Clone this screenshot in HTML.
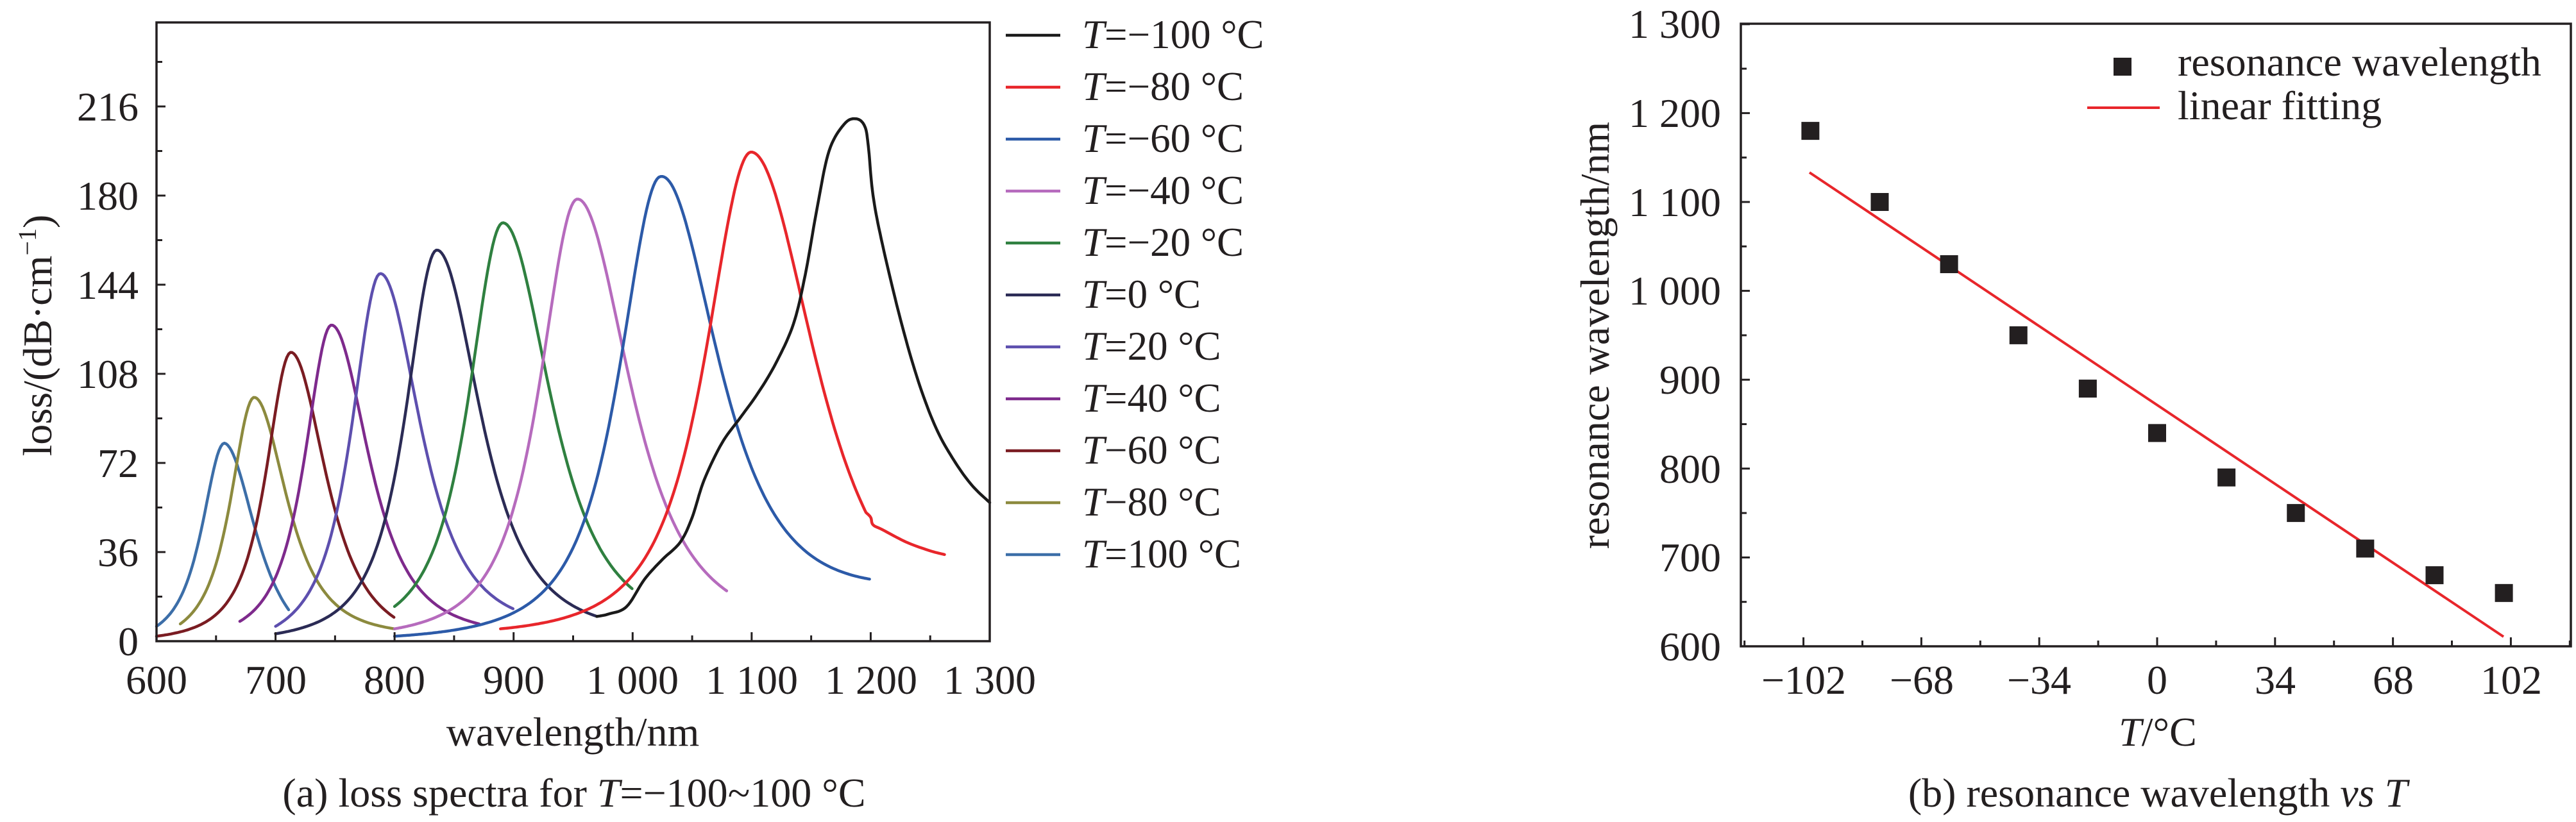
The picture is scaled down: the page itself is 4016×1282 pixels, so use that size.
<!DOCTYPE html>
<html><head><meta charset="utf-8"><style>
html,body{margin:0;padding:0;background:#fff;}
svg{display:block;}
text,tspan{font-family:"Liberation Serif",serif;fill:#231f20;}
</style></head><body>
<svg id="s" width="4016" height="1282" viewBox="0 0 4016 1282" xmlns="http://www.w3.org/2000/svg">
<g id="curves" fill="none" stroke-width="4.5" stroke-linejoin="round" stroke-linecap="round"></g>
<g id="axes" stroke="#231f20" fill="none"></g>
<g font-size="64" text-anchor="end">
<text x="216" y="1022">0</text>
<text x="216" y="883">36</text>
<text x="216" y="744">72</text>
<text x="216" y="605">108</text>
<text x="216" y="466">144</text>
<text x="216" y="327">180</text>
<text x="216" y="188">216</text>
</g>
<g font-size="64" text-anchor="middle">
<text x="244" y="1082">600</text>
<text x="430" y="1082">700</text>
<text x="615" y="1082">800</text>
<text x="801" y="1082">900</text>
<text x="986" y="1082">1 000</text>
<text x="1172" y="1082">1 100</text>
<text x="1358" y="1082">1 200</text>
<text x="1543" y="1082">1 300</text>
<text x="893" y="1163">wavelength/nm</text>
<text x="895" y="1258">(a) loss spectra for <tspan font-style="italic">T</tspan>=−100~100 °C</text>
</g>
<text font-size="64" text-anchor="middle" transform="translate(80,523) rotate(-90)">loss/(dB·cm<tspan font-size="40" dy="-24">−1</tspan><tspan dy="24">)</tspan></text>
<g id="leg" stroke-width="4.5"></g>
<g font-size="63">
<text x="1687" y="75"><tspan font-style="italic">T</tspan>=−100 °C</text>
<text x="1687" y="156"><tspan font-style="italic">T</tspan>=−80 °C</text>
<text x="1687" y="237"><tspan font-style="italic">T</tspan>=−60 °C</text>
<text x="1687" y="318"><tspan font-style="italic">T</tspan>=−40 °C</text>
<text x="1687" y="399"><tspan font-style="italic">T</tspan>=−20 °C</text>
<text x="1687" y="480"><tspan font-style="italic">T</tspan>=0 °C</text>
<text x="1687" y="561"><tspan font-style="italic">T</tspan>=20 °C</text>
<text x="1687" y="642"><tspan font-style="italic">T</tspan>=40 °C</text>
<text x="1687" y="723"><tspan font-style="italic">T</tspan>−60 °C</text>
<text x="1687" y="804"><tspan font-style="italic">T</tspan>−80 °C</text>
<text x="1687" y="885"><tspan font-style="italic">T</tspan>=100 °C</text>
</g>
<g font-size="64" text-anchor="end">
<text x="2683" y="1030">600</text>
<text x="2683" y="891">700</text>
<text x="2683" y="753">800</text>
<text x="2683" y="614">900</text>
<text x="2683" y="475">1 000</text>
<text x="2683" y="337">1 100</text>
<text x="2683" y="198">1 200</text>
<text x="2683" y="59">1 300</text>
</g>
<g font-size="64" text-anchor="middle">
<text x="2812" y="1082">−102</text>
<text x="2996" y="1082">−68</text>
<text x="3179" y="1082">−34</text>
<text x="3363" y="1082">0</text>
<text x="3547" y="1082">34</text>
<text x="3731" y="1082">68</text>
<text x="3915" y="1082">102</text>
<text x="3364" y="1163"><tspan font-style="italic">T</tspan>/°C</text>
<text x="3364" y="1258">(b) resonance wavelength <tspan font-style="italic">vs T</tspan></text>
</g>
<text font-size="64" text-anchor="middle" transform="translate(2508,523) rotate(-90)">resonance wavelength/nm</text>
<line x1="2821" y1="269" x2="3903" y2="993" stroke="#e8262b" stroke-width="4"/>
<g id="pts" fill="#231f20"></g>
<rect x="3295" y="90" width="28" height="28" fill="#231f20"/>
<line x1="3254" y1="168" x2="3367" y2="168" stroke="#e8262b" stroke-width="4"/>
<g font-size="64">
<text x="3395" y="118">resonance wavelength</text>
<text x="3395" y="186">linear fitting</text>
</g>
</svg>
<script>
var NS="http://www.w3.org/2000/svg";
function el(p,t,a){var e=document.createElementNS(NS,t);for(var k in a)e.setAttribute(k,a[k]);p.appendChild(e);return e;}
var ax=document.getElementById('axes');
var X=function(l){return 244+(l-600)*1.8557;},Y=function(v){return 1000-v*3.861;};
el(ax,'rect',{x:244,y:35,width:1299,height:965,'stroke-width':3.5});
for(var l=600;l<=1300;l+=50){var maj=(l%100==0);el(ax,'line',{x1:X(l),y1:1000,x2:X(l),y2:1000-(maj?14:9),'stroke-width':3});}
for(var v=0;v<=250;v+=18){var maj=(v%36==0);el(ax,'line',{x1:244,y1:Y(v),x2:244+(maj?14:9),y2:Y(v),'stroke-width':3});}
var TX=function(t){return 3363+t*5.406;},WY=function(w){return 1008-(w-600)*1.386;};
el(ax,'rect',{x:2714,y:37,width:1294,height:971,'stroke-width':3.5});
for(var t=-119;t<=119;t+=17){var maj=((t+102)%34==0);el(ax,'line',{x1:TX(t),y1:1008,x2:TX(t),y2:1008-(maj?14:9),'stroke-width':3});}
for(var w=600;w<=1300;w+=50){var maj=(w%100==0);el(ax,'line',{x1:2714,y1:WY(w),x2:2714+(maj?14:9),y2:WY(w),'stroke-width':3});}
var pts=document.getElementById('pts');
var data=[1180,1100,1030,950,890,840,790,750,710,680,660];
for(var i=0;i<11;i++){var T=-100+20*i;el(pts,'rect',{x:TX(T)-14,y:WY(data[i])-14,width:28,height:28});}
var S=[
 ['#1a1a1a'],
 ['#e8262b',889,1196,1099.7,197.6,5,52],
 ['#2c5aa8',800,1200,1023.7,187.7,2,25],
 ['#b66bbd',800,1080,953.6,178.6,5,20],
 ['#2f8040',800,1000,891,169,14,21],
 ['#2b2b55',700,970,835.5,158,3,10],
 ['#5d4fae',700,900,788,148.5,6,13],
 ['#7e2a8c',670,871,747,127.7,8,7],
 ['#7a1c22',600,800,713,116.7,2,9.5],
 ['#8c8a3e',620,800,682,98.5,7,5],
 ['#3c6ea8',600,711,657,80,6,12.7]
];
function shape(A,l0,l){var k=Math.pow(l0/657,1.4);var w=(l<l0?28.7:40)*k;var x=(l-l0)/w;return A/Math.pow(1+x*x,1.5);}
function curvePts(s){var a=s[1],b=s[2],l0=s[3],A=s[4];var ca=s[5]-shape(A,l0,a),cb=s[6]-shape(A,l0,b);var r=[];
 for(var l=a;l<=b+0.001;l+=1.5){var v=shape(A,l0,l);if(l<l0)v+=ca*(l0-l)/(l0-a);else v+=cb*(l-l0)/(b-l0);r.push([l,v]);}return r;}
function catmull(p){var r=[];for(var i=0;i<p.length-1;i++){var p0=p[Math.max(0,i-1)],p1=p[i],p2=p[i+1],p3=p[Math.min(p.length-1,i+2)];
 for(var t=0;t<1;t+=0.1){var t2=t*t,t3=t2*t;var f=function(k){return 0.5*((2*p1[k])+(-p0[k]+p2[k])*t+(2*p0[k]-5*p1[k]+4*p2[k]-p3[k])*t2+(-p0[k]+3*p1[k]-3*p2[k]+p3[k])*t3);};r.push([f(0),f(1)]);}}
 r.push(p[p.length-1]);return r;}
var black=[[970,10],[980,11],[995,14],[1010,25],[1025,33],[1040,40],[1050,50],[1060,65],[1075,80],[1090,90],[1105,100],[1120,112],[1135,128],[1145,148],[1155,175],[1165,198],[1178,209],[1188,211],[1195,208],[1198,200],[1202,180],[1210,160],[1225,130],[1240,105],[1255,86],[1270,73],[1285,63],[1300,56]];
var cg=document.getElementById('curves'),lg=document.getElementById('leg');
for(var i=S.length-1;i>=0;i--){var s=S[i],p;
 if(i==0)p=catmull(black);
 else{p=curvePts(s);if(i==1)p=p.concat(catmull([[1196,52],[1200,50],[1202,47],[1210,45],[1230,40],[1250,36.5],[1262,35]]));}
 var d='M'+p.map(function(q){return X(q[0]).toFixed(1)+','+Y(q[1]).toFixed(1);}).join('L');
 el(cg,'path',{d:d,stroke:s[0]});
}
for(var i=0;i<S.length;i++){var y=55+81*i;el(lg,'line',{x1:1568,y1:y,x2:1653,y2:y,stroke:S[i][0]});}
</script>
</body></html>
